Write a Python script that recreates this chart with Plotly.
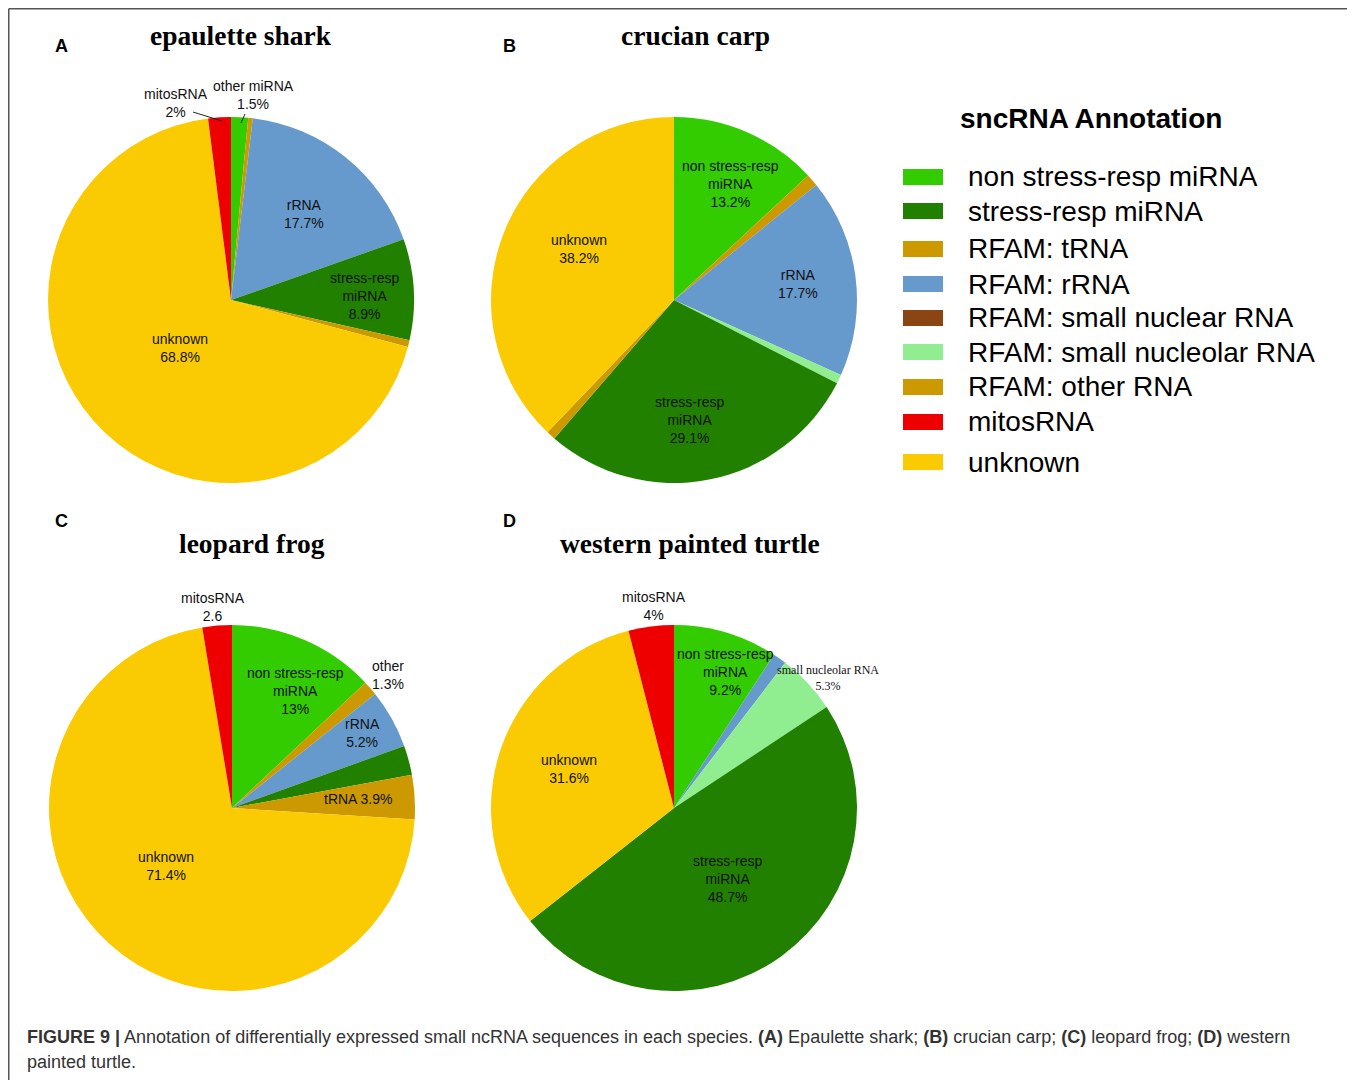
import plotly.graph_objects as go

W, H = 1355, 1080
OFF = 8  # page body margin offset

# ---------------- data ----------------
categories = ["non stress-resp miRNA", "stress-resp miRNA", "RFAM: tRNA", "RFAM: rRNA",
              "RFAM: small nuclear RNA", "RFAM: small nucleolar RNA", "RFAM: other RNA",
              "mitosRNA", "unknown"]
cat_colors = ["#33CC00", "#228000", "#CC9900", "#6699CC", "#8B4513", "#90EE90",
              "#CC9900", "#EE0000", "#FACB03"]

shark_labels = ["non stress-resp miRNA", "RFAM: tRNA", "RFAM: rRNA", "stress-resp miRNA",
                "RFAM: other RNA", "unknown", "mitosRNA"]
shark_values = [1.5, 0.4, 17.7, 8.9, 0.6, 68.8, 2.0]

carp_labels = ["non stress-resp miRNA", "RFAM: tRNA", "RFAM: rRNA", "RFAM: small nucleolar RNA",
               "stress-resp miRNA", "RFAM: other RNA", "unknown"]
carp_values = [13.2, 1.1, 17.7, 0.8, 29.1, 0.8, 38.2]

frog_labels = ["non stress-resp miRNA", "RFAM: other RNA", "RFAM: rRNA", "stress-resp miRNA",
               "RFAM: tRNA", "unknown", "mitosRNA"]
frog_values = [13.0, 1.3, 5.2, 2.6, 3.9, 71.4, 2.6]

turtle_labels = ["non stress-resp miRNA", "RFAM: rRNA", "RFAM: small nucleolar RNA",
                 "stress-resp miRNA", "unknown", "mitosRNA"]
turtle_values = [9.2, 1.2, 5.3, 48.7, 31.6, 4.0]

titles = ["epaulette shark", "crucian carp", "leopard frog", "western painted turtle"]
panel_letters = ["A", "B", "C", "D"]

color_of = dict(zip(categories, cat_colors))

# ---------------- helpers (pixel -> paper) ----------------
def px(x):
    return (x - OFF) / W

def py(y):
    return 1 - (y - OFF) / H

fig = go.Figure()

pies = [
    (shark_labels, shark_values, 231, 300),
    (carp_labels, carp_values, 674, 300),
    (frog_labels, frog_values, 232, 808),
    (turtle_labels, turtle_values, 674, 808),
]
R = 183
for labels, values, cx, cy in pies:
    fig.add_trace(go.Pie(
        labels=labels, values=values, sort=False, direction="clockwise", rotation=0,
        marker=dict(colors=[color_of[l] for l in labels], line=dict(width=0)),
        textinfo="none", showlegend=False,
        domain=dict(x=[px(cx - R), px(cx + R)], y=[py(cy + R), py(cy - R)]),
    ))

ann = []
SANS = "Liberation Sans, Arial, sans-serif"
SERIF = "Liberation Serif, Times New Roman, serif"

def txt(x, y, s, size=14, family=SANS, color="#111", xanchor="center", yanchor="middle"):
    ann.append(dict(x=px(x), y=py(y), xref="paper", yref="paper", text=s, showarrow=False,
                    font=dict(size=size, family=family, color=color),
                    xanchor=xanchor, yanchor=yanchor, align="center"))

# titles & panel letters
title_pos = [(241, 36), (695, 36), (252, 544), (690, 544)]
letter_pos = [(61, 46), (510, 46), (61, 521), (510, 521)]
for t, (x, y) in zip(titles, title_pos):
    txt(x, y, "<b>" + t + "</b>", size=27.5, family=SERIF, color="#000")
for l, (x, y) in zip(panel_letters, letter_pos):
    txt(x, y, "<b>" + l + "</b>", size=18, color="#000")

# slice labels - shark
txt(176, 103, "mitosRNA<br>2%")
txt(253, 95, "other miRNA<br>1.5%")
txt(304, 214, "rRNA<br>17.7%")
txt(364, 296, "stress-resp<br>miRNA<br>8.9%")
txt(180, 348, "unknown<br>68.8%")
# carp
txt(730, 184, "non stress-resp<br>miRNA<br>13.2%")
txt(798, 284, "rRNA<br>17.7%")
txt(689, 420, "stress-resp<br>miRNA<br>29.1%")
txt(579, 249, "unknown<br>38.2%")
# frog
txt(213, 607, "mitosRNA<br>2.6")
txt(388, 675, "other<br>1.3%")
txt(295, 691, "non stress-resp<br>miRNA<br>13%")
txt(362, 733, "rRNA<br>5.2%")
txt(358, 799, "tRNA 3.9%")
txt(166, 866, "unknown<br>71.4%")
# turtle
txt(654, 606, "mitosRNA<br>4%")
txt(725, 672, "non stress-resp<br>miRNA<br>9.2%")
txt(828, 678, "small nucleolar RNA<br>5.3%", size=12, family=SERIF)
txt(569, 769, "unknown<br>31.6%")
txt(727, 879, "stress-resp<br>miRNA<br>48.7%")

# legend (manual)
txt(1091, 119, "<b>sncRNA Annotation</b>", size=28, color="#000")
legend_y = [177, 211, 249, 284, 318, 352, 387, 422, 462]
shapes = []
for name, col, y in zip(categories, cat_colors, legend_y):
    shapes.append(dict(type="rect", xref="paper", yref="paper",
                       x0=px(903), x1=px(943), y0=py(y + 8), y1=py(y - 8),
                       fillcolor=col, line=dict(width=0)))
    txt(966, y, name, size=28, color="#000", xanchor="left")

# caption
txt(25, 1037, "<b>FIGURE 9 |</b> Annotation of differentially expressed small ncRNA sequences in each species. "
    "<b>(A)</b> Epaulette shark; <b>(B)</b> crucian carp; <b>(C)</b> leopard frog; <b>(D)</b> western",
    size=18, color="#333", xanchor="left")
txt(25, 1062, "painted turtle.", size=18, color="#333", xanchor="left")

# leader lines
for (x0, y0, x1, y1) in [(193, 112, 222, 121), (245, 114, 241, 123)]:
    shapes.append(dict(type="line", xref="paper", yref="paper", x0=px(x0), y0=py(y0),
                       x1=px(x1), y1=py(y1), line=dict(color="#222", width=1)))

# frame
shapes.append(dict(type="line", xref="paper", yref="paper", x0=px(8.75), y0=py(8.75), x1=1, y1=py(8.75),
                   line=dict(color="#555", width=1.5)))
shapes.append(dict(type="line", xref="paper", yref="paper", x0=px(8.75), y0=py(8.75), x1=px(8.75), y1=0,
                   line=dict(color="#555", width=1.5)))

fig.update_layout(width=W, height=H, margin=dict(l=0, r=0, t=0, b=0),
                  paper_bgcolor="white", plot_bgcolor="white",
                  annotations=ann, shapes=shapes, showlegend=False)

fig.write_html("out.html")
